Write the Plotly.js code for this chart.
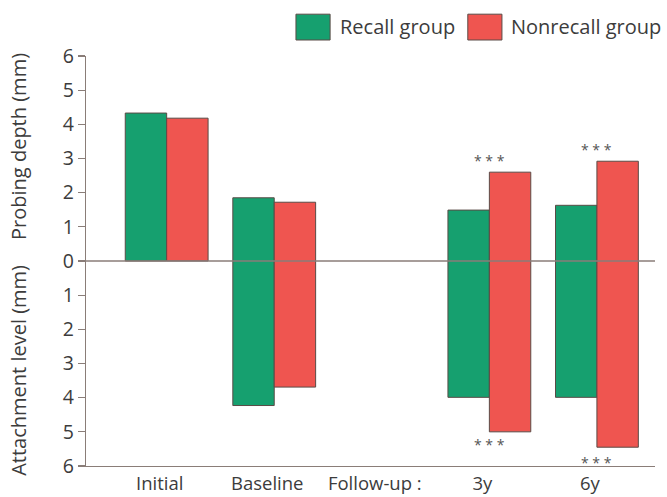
<!DOCTYPE html>
<html>
<head>
<meta charset="utf-8">
<script src="https://cdn.plot.ly/plotly-3.0.1.min.js"></script>
<style>html,body{margin:0;padding:0;background:#fff;}#chart{width:667px;height:497px;}</style>
</head>
<body>
<div id="chart"></div>
<script>
// Data
const categories = ["Initial", "Baseline", "Follow-up :", "3y", "6y"];
const barCategories = ["Initial", "Baseline", "3y", "6y"];
const seriesNames = ["Recall group", "Nonrecall group"];
const probingRecall = [4.33, 1.85, 1.49, 1.63];
const probingNonrecall = [4.18, 1.72, 2.60, 2.92];
const attachmentRecall = [0, 4.23, 3.99, 3.99];
const attachmentNonrecall = [0, 3.69, 5.00, 5.45];
const yTickVals = [6, 5, 4, 3, 2, 1, 0, -1, -2, -3, -4, -5, -6];
const yTickText = ["6", "5", "4", "3", "2", "1", "0", "1", "2", "3", "4", "5", "6"];
// significance markers: [category, y]
const sigCats = ["3y", "3y", "6y", "6y"];
const sigY = [2.95, -5.38, 3.27, -5.9];
const sigText = "* * *";

const green = "#16a06f";
const red = "#ef5550";
const axisColor = "#8a7d78";
const textColor = "#3c3c3c";
const fontFam = "'Open Sans', 'Noto Sans', sans-serif";

function mkTrace(name, probe, attach, color) {
  return {
    type: "bar",
    name: name,
    x: barCategories,
    y: probe.map((p, i) => p + attach[i]),
    base: attach.map(a => -a),
    marker: { color: color, line: { color: "#5a4b46", width: 1 } },
    showlegend: false,
    hoverinfo: "skip"
  };
}

const traces = [
  mkTrace(seriesNames[0], probingRecall, attachmentRecall, green),
  mkTrace(seriesNames[1], probingNonrecall, attachmentNonrecall, red)
];

const annotations = [];
sigCats.forEach((c, i) => {
  annotations.push({
    x: c, y: sigY[i], xref: "x", yref: "y", text: sigText, showarrow: false,
    font: { family: fontFam, size: 14, color: "#555" }, xanchor: "center", yanchor: "middle"
  });
});
// y-axis titles
annotations.push({
  xref: "paper", yref: "paper", x: -0.12, y: 0.78, text: "Probing depth (mm)", textangle: -90,
  showarrow: false, font: { family: fontFam, size: 20, color: textColor }, xanchor: "center", yanchor: "middle"
});
annotations.push({
  xref: "paper", yref: "paper", x: -0.12, y: 0.234, text: "Attachment level (mm)", textangle: -90,
  showarrow: false, font: { family: fontFam, size: 20, color: textColor }, xanchor: "center", yanchor: "middle"
});
// custom legend text
annotations.push({
  xref: "paper", yref: "paper", x: 0.443, y: 1.071, text: seriesNames[0], showarrow: false,
  font: { family: fontFam, size: 20, color: textColor }, xanchor: "left", yanchor: "middle"
});
annotations.push({
  xref: "paper", yref: "paper", x: 0.743, y: 1.071, text: seriesNames[1], showarrow: false,
  font: { family: fontFam, size: 20, color: textColor }, xanchor: "left", yanchor: "middle"
});

const shapes = [
  { type: "line", xref: "paper", yref: "y", x0: 0, x1: 1, y0: 0, y1: 0, layer: "above",
    line: { color: axisColor, width: 1.3 } },
  { type: "rect", xref: "paper", yref: "paper", x0: 0.369, x1: 0.429, y0: 1.039, y1: 1.102,
    fillcolor: green, line: { color: "#5a4b46", width: 1 } },
  { type: "rect", xref: "paper", yref: "paper", x0: 0.671, x1: 0.731, y0: 1.039, y1: 1.102,
    fillcolor: red, line: { color: "#5a4b46", width: 1 } }
];

const layout = {
  width: 667, height: 497,
  margin: { l: 86, r: 12, t: 56, b: 31, pad: 0 },
  paper_bgcolor: "#fff", plot_bgcolor: "#fff",
  barmode: "group", bargap: 0.23, bargroupgap: 0,
  font: { family: fontFam, color: textColor },
  xaxis: {
    type: "category", categoryorder: "array", categoryarray: categories,
    tickmode: "array", tickvals: categories, ticktext: categories,
    range: [-0.75, 4.54], showgrid: false, zeroline: false,
    showline: true, linecolor: axisColor, linewidth: 1.3, ticks: "",
    tickfont: { family: fontFam, size: 18.5, color: textColor }, ticklabelshift: -7,
    fixedrange: true
  },
  yaxis: {
    range: [-6, 6], tickmode: "array", tickvals: yTickVals, ticktext: yTickText,
    showgrid: false, zeroline: false, showline: true, linecolor: axisColor, linewidth: 1.3,
    ticks: "outside", ticklen: 7, tickcolor: axisColor, tickwidth: 1.2,
    tickfont: { family: fontFam, size: 19.5, color: textColor }, fixedrange: true
  },
  annotations: annotations,
  shapes: shapes
};

Plotly.newPlot("chart", traces, layout, { displayModeBar: false, staticPlot: true });
</script>
</body>
</html>
